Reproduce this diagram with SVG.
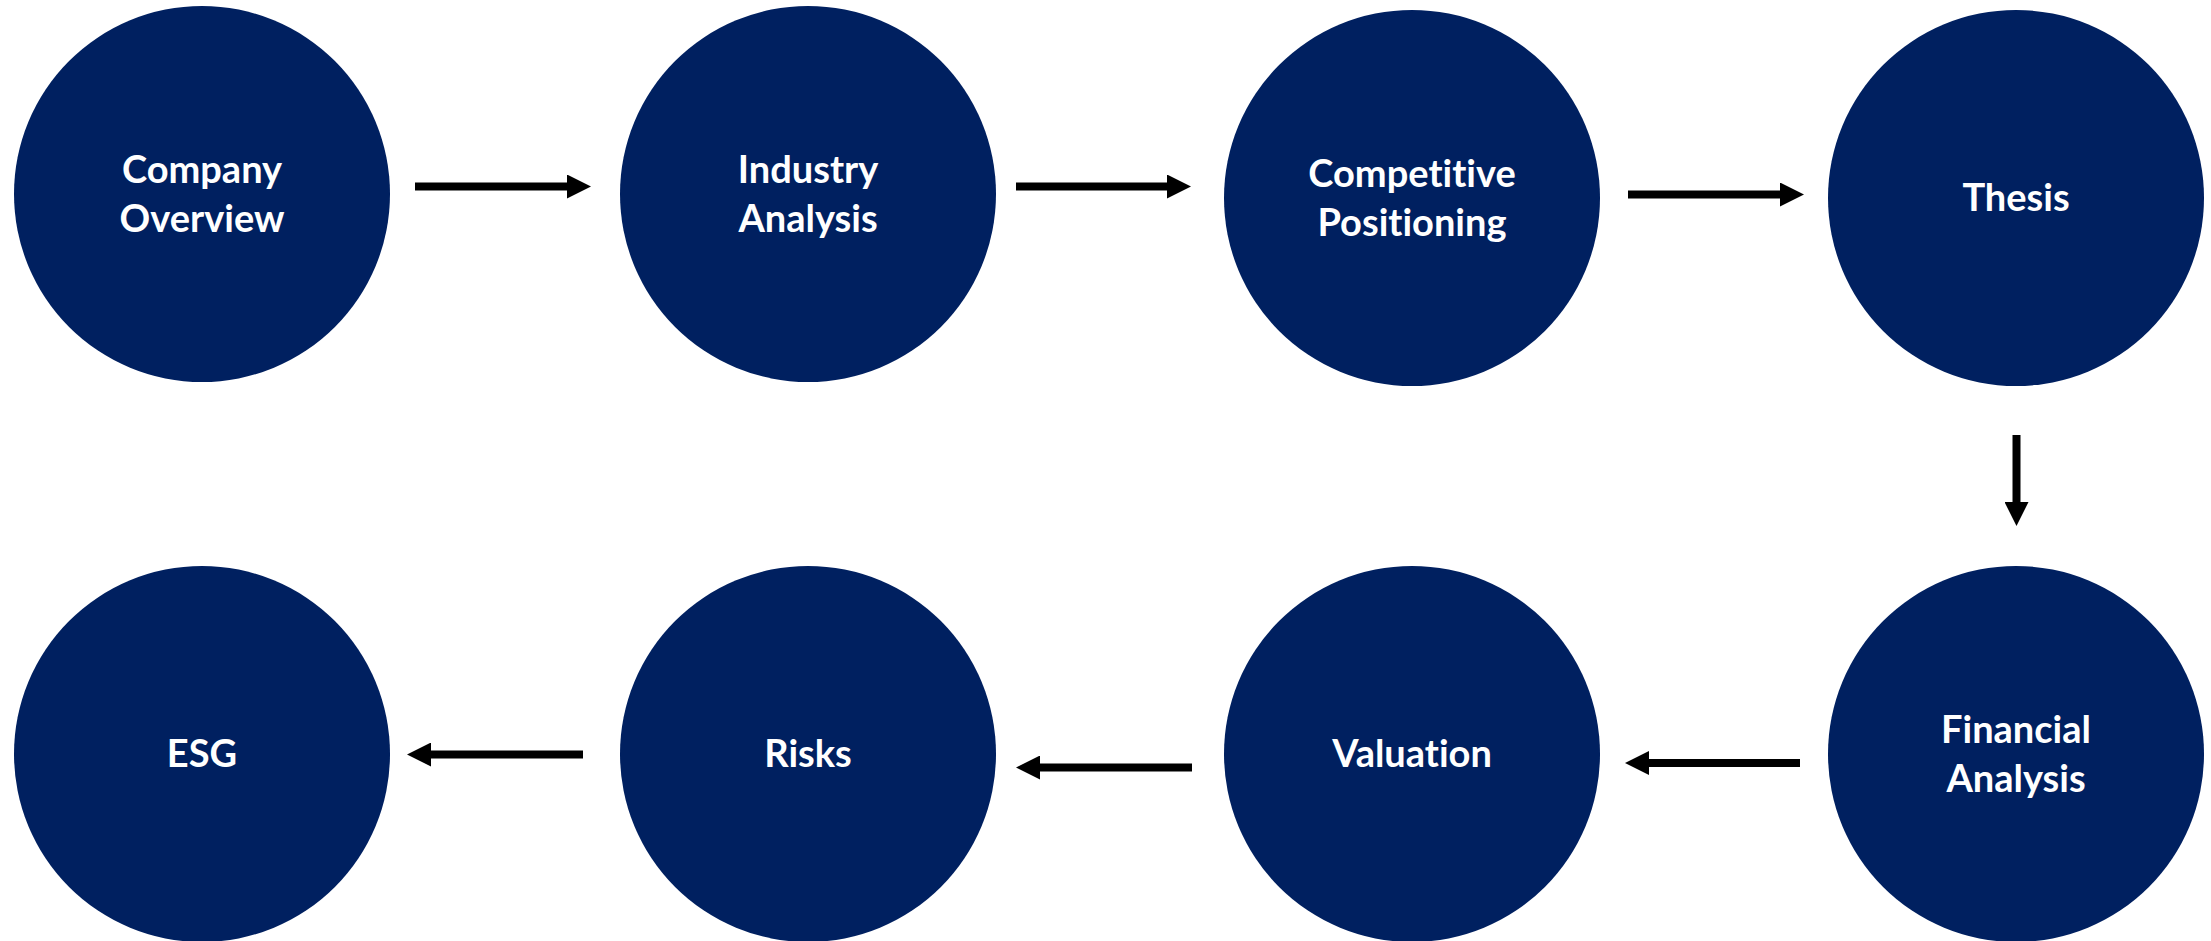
<svg xmlns="http://www.w3.org/2000/svg" width="2211" height="941" viewBox="0 0 2211 941">
<style>
.node circle{fill:#002060}
.node text{fill:#ffffff;font-family:Lato,"Liberation Sans",sans-serif;font-weight:bold;font-size:38px;text-anchor:middle;font-variant-ligatures:none}
.conn line{stroke:#000;stroke-width:8}
</style>
<defs>
<marker id="ah" markerUnits="userSpaceOnUse" markerWidth="24" markerHeight="24" refX="0" refY="12" orient="auto">
<path d="M0,0 L24,12 L0,24 Z" fill="#000"/>
</marker>
</defs>
<rect width="2211" height="941" fill="#fff"/>
<g id="connectors" class="conn">
<line x1="415" y1="186.5" x2="567" y2="186.5" marker-end="url(#ah)"/>
<line x1="1016" y1="186.5" x2="1167" y2="186.5" marker-end="url(#ah)"/>
<line x1="1628" y1="194.5" x2="1780" y2="194.5" marker-end="url(#ah)"/>
<line x1="2016.5" y1="435" x2="2016.5" y2="502" marker-end="url(#ah)"/>
<line x1="1800" y1="763" x2="1649" y2="763" marker-end="url(#ah)"/>
<line x1="1192" y1="767.5" x2="1040" y2="767.5" marker-end="url(#ah)"/>
<line x1="583" y1="754.5" x2="431" y2="754.5" marker-end="url(#ah)"/>
</g>
<g id="node-company-overview" class="node"><circle cx="202" cy="194" r="188"/><text x="202" y="183">Company</text><text x="202" y="232">Overview</text></g>
<g id="node-industry-analysis" class="node"><circle cx="808" cy="194" r="188"/><text x="808" y="183">Industry</text><text x="808" y="232">Analysis</text></g>
<g id="node-competitive-positioning" class="node"><circle cx="1412" cy="198" r="188"/><text x="1412" y="187">Competitive</text><text x="1412" y="236">Positioning</text></g>
<g id="node-thesis" class="node"><circle cx="2016" cy="198" r="188"/><text x="2016" y="211">Thesis</text></g>
<g id="node-financial-analysis" class="node"><circle cx="2016" cy="754" r="188"/><text x="2016" y="743">Financial</text><text x="2016" y="792">Analysis</text></g>
<g id="node-valuation" class="node"><circle cx="1412" cy="754" r="188"/><text x="1412" y="767">Valuation</text></g>
<g id="node-risks" class="node"><circle cx="808" cy="754" r="188"/><text x="808" y="767">Risks</text></g>
<g id="node-esg" class="node"><circle cx="202" cy="754" r="188"/><text x="202" y="767">ESG</text></g>
</svg>
